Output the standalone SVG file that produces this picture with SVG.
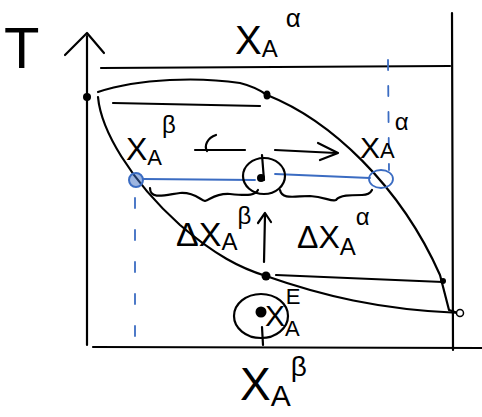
<svg xmlns="http://www.w3.org/2000/svg" width="482" height="417" viewBox="0 0 482 417">
<style>
.s{fill:none;stroke:#000;stroke-width:2.2;stroke-linecap:round;stroke-linejoin:round}
.b{fill:none;stroke:#3b6cc2;stroke-width:1.8;stroke-linecap:round}
.t{font-family:"Liberation Sans",Arial,sans-serif;fill:#000}
</style>
<rect width="482" height="417" fill="#fff"/>
<!-- axes -->
<g id="axes">
<path class="s" d="M87,36 L87,345"/>
<path class="s" d="M65,55 L87,33 L104,53"/>
<path class="s" d="M93,347 L482,348"/>
<path class="s" d="M101,68 L450,66"/>
<path class="s" d="M452,13 L453,350"/>
<path class="s" d="M113,103 L260,106"/>
<path class="s" d="M276,275 L443,282"/>
</g>
<!-- phase curves -->
<g id="curves">
<path class="s" d="M98,92 C140,78 200,77 240,83 C252,86 260,90 267,95 C330,120 400,185 440,275 L449,310 L458,313"/>
<path class="s" d="M98,97 C101,130 130,180 180,225 C215,255 240,268 266,276 C320,295 380,310 460,313"/>
<circle cx="87" cy="97" r="4" fill="#000"/>
<ellipse cx="267" cy="95" rx="3.5" ry="4.5" fill="#000"/>
<circle cx="266" cy="276" r="4.5" fill="#000"/>
<circle cx="443" cy="281" r="3" fill="#000"/>
<circle cx="460" cy="313" r="3.5" fill="#fff" stroke="#000" stroke-width="1.5"/>
</g>
<!-- blue tie line -->
<g id="tieline">
<path class="b" d="M143,179 L255,180"/>
<path class="b" d="M275,174 L370,178"/>
<circle cx="136" cy="180" r="7" fill="#3b6cc2" fill-opacity="0.5" stroke="#3b6cc2" stroke-width="2"/>
<ellipse cx="381" cy="179" rx="12" ry="9" class="b"/>
<path class="b" d="M135,198 L135,345" stroke-dasharray="10,22"/>
<path class="b" d="M388,60 L389,170" stroke-dasharray="10,16"/>
</g>
<!-- overall point -->
<g id="point">
<ellipse cx="264" cy="176" rx="21" ry="18" class="s"/>
<circle cx="261" cy="178" r="4" fill="#000"/>
<path class="s" d="M262,155 L264,180"/>
</g>
<!-- braces -->
<g id="braces">
<path class="s" d="M150,188 C150,200 165,195 180,193 C195,192 200,200 205,201 C210,200 215,193 230,194 C250,196 255,195 258,190"/>
<path class="s" d="M280,190 C282,200 295,196 310,196 C325,197 332,202 336,200 C340,195 350,195 362,195 C368,195 371,192 372,190"/>
</g>
<!-- arrows -->
<g id="arrows">
<path class="s" d="M216,135 C207,138 204,146 207,151"/>
<path class="s" d="M195,150 L245,150"/>
<path class="s" d="M275,150 L336,153"/>
<path class="s" d="M318,143 L338,153 L320,160"/>
<path class="s" d="M264,262 L265,215"/>
<path class="s" d="M258,223 L265,213 L271,222"/>
</g>
<!-- eye at bottom -->
<g id="eutectic">
<ellipse cx="261" cy="316" rx="27" ry="22" class="s"/>
<circle cx="261" cy="312" r="5.5" fill="#000"/>
<path class="s" d="M262,327 L263,345"/>
</g>
<!-- labels -->
<g id="labels">
<text class="t" x="4" y="68" font-size="58">T</text>
<text class="t" x="235" y="54" font-size="40">X<tspan font-size="24" dy="3">A</tspan><tspan font-size="26" dy="-30" dx="8">α</tspan></text>
<text class="t" x="126" y="160" font-size="32">X<tspan font-size="22" dy="5">A</tspan><tspan font-size="24" dy="-32">β</tspan></text>
<text class="t" x="360" y="158" font-size="30">X<tspan font-size="22" dy="0">A</tspan><tspan font-size="24" dy="-28">α</tspan></text>
<text class="t" x="176" y="246" font-size="34">ΔX<tspan font-size="24" dy="4">A</tspan><tspan font-size="24" dy="-26">β</tspan></text>
<text class="t" x="297" y="248" font-size="32">ΔX<tspan font-size="24" dy="7">A</tspan><tspan font-size="24" dy="-30">α</tspan></text>
<text class="t" x="265" y="326" font-size="30">X<tspan font-size="22" dy="10">A</tspan><tspan font-size="22" dy="-32" dx="-14">E</tspan></text>
<text class="t" x="240" y="400" font-size="46">X<tspan font-size="30" dy="6">A</tspan><tspan font-size="28" dy="-30">β</tspan></text>
</g>
</svg>
